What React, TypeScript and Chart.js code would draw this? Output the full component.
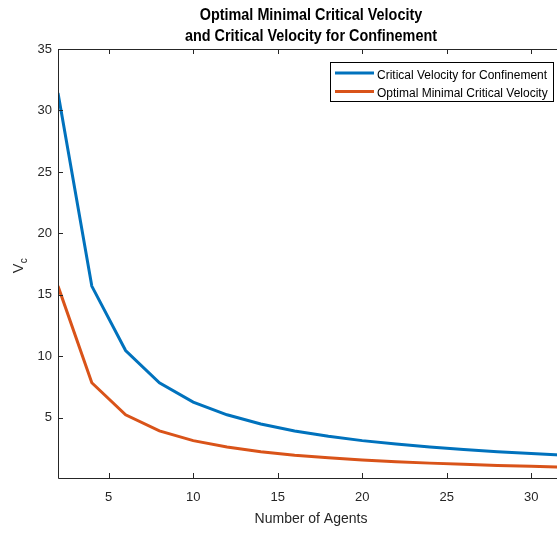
import React, { useEffect, useRef } from "react";
import { Chart, registerables } from "chart.js";

Chart.register(...registerables);

const agents = [2, 4, 6, 8, 10, 12, 14, 16, 18, 20, 22, 24, 26, 28, 30, 32];
const confinementVelocity = [31.42, 15.71, 10.47, 7.85, 6.28, 5.24, 4.49, 3.93, 3.49, 3.14, 2.86, 2.62, 2.42, 2.24, 2.09, 1.96];
const optimalVelocity = [15.71, 7.85, 5.24, 3.93, 3.14, 2.62, 2.24, 1.96, 1.75, 1.57, 1.43, 1.31, 1.21, 1.12, 1.05, 0.98];
const xTicks = [5, 10, 15, 20, 25, 30];
const yTicks = [5, 10, 15, 20, 25, 30, 35];
const seriesNames = ["Critical Velocity for Confinement", "Optimal Minimal Critical Velocity"];
const titleLines = ["Optimal Minimal Critical Velocity", "and Critical Velocity for Confinement"];
const xTitle = "Number of Agents";

const FONT = "'Liberation Sans', Arial, Helvetica, sans-serif";
const BLUE = "#0072BD";
const ORANGE = "#D95319";
const AXIS = "#262626";

function condensedText(ctx: CanvasRenderingContext2D, text: string, x: number, y: number, sx: number, align: "left" | "center") {
  ctx.save();
  ctx.translate(x, y);
  ctx.scale(sx, 1);
  ctx.textAlign = align;
  ctx.fillText(text, 0, 0);
  ctx.restore();
}

const decorPlugin = {
  id: "decor",
  afterDraw(chart: any) {
    const ctx = chart.ctx as CanvasRenderingContext2D;
    const { left, right, top, bottom } = chart.chartArea;
    const xs = chart.scales.x;
    const ys = chart.scales.y;
    ctx.save();
    // box
    ctx.strokeStyle = AXIS;
    ctx.lineWidth = 1;
    ctx.beginPath();
    ctx.moveTo(left + 0.5, top + 0.5);
    ctx.lineTo(right, top + 0.5);
    ctx.moveTo(left + 0.5, top);
    ctx.lineTo(left + 0.5, bottom + 0.5);
    ctx.lineTo(right, bottom + 0.5);
    ctx.stroke();
    // inward ticks
    const tl = 5;
    ctx.beginPath();
    for (const v of xTicks) {
      const px = Math.round(xs.getPixelForValue(v)) + 0.5;
      ctx.moveTo(px, bottom);
      ctx.lineTo(px, bottom - tl);
      ctx.moveTo(px, top);
      ctx.lineTo(px, top + tl);
    }
    for (const v of yTicks) {
      const py = Math.round(ys.getPixelForValue(v)) + 0.5;
      ctx.moveTo(left, py);
      ctx.lineTo(left + tl, py);
    }
    ctx.stroke();
    // title
    ctx.fillStyle = "#000";
    ctx.textBaseline = "alphabetic";
    ctx.font = `bold 16px ${FONT}`;
    const cx = 311;
    condensedText(ctx, titleLines[0], cx, 19.5, 0.9, "center");
    condensedText(ctx, titleLines[1], cx, 40.5, 0.9, "center");
    // x title
    ctx.fillStyle = AXIS;
    ctx.textAlign = "center";
    ctx.textBaseline = "middle";
    ctx.font = `14px ${FONT}`;
    ctx.fillText(xTitle, cx, 519);
    // y title V_c rotated
    ctx.translate(23, 265);
    ctx.rotate(-Math.PI / 2);
    ctx.textAlign = "left";
    ctx.textBaseline = "alphabetic";
    ctx.font = `14.5px ${FONT}`;
    const vw = ctx.measureText("V").width;
    const total = vw + 7;
    ctx.fillText("V", -total / 2, 0);
    ctx.font = `10px ${FONT}`;
    ctx.fillText("c", -total / 2 + vw + 0.5, 4);
    ctx.restore();

    // legend
    ctx.save();
    const lx = 330.5, ly = 62.5, lw = 223, lh = 39;
    ctx.fillStyle = "#fff";
    ctx.fillRect(lx, ly, lw, lh);
    ctx.strokeStyle = "#000";
    ctx.lineWidth = 1;
    ctx.strokeRect(lx, ly, lw, lh);
    const colors = [BLUE, ORANGE];
    ctx.font = `12.5px ${FONT}`;
    ctx.textBaseline = "alphabetic";
    seriesNames.forEach((name, i) => {
      const y = 73 + i * 18.5;
      ctx.strokeStyle = colors[i];
      ctx.lineWidth = 3;
      ctx.beginPath();
      ctx.moveTo(335, y);
      ctx.lineTo(374, y);
      ctx.stroke();
      ctx.fillStyle = "#000";
      condensedText(ctx, name, 377, 78.5 + i * 18.8, 0.96, "left");
    });
    ctx.restore();
  },
};

export default function App() {
  const ref = useRef<HTMLCanvasElement>(null);
  useEffect(() => {
    if (!ref.current) return;
    const chart = new Chart(ref.current, {
      type: "line",
      data: {
        datasets: [
          {
            label: seriesNames[0],
            data: agents.map((a, i) => ({ x: a, y: confinementVelocity[i] })),
            borderColor: BLUE,
            borderWidth: 3,
            pointRadius: 0,
            tension: 0,
          },
          {
            label: seriesNames[1],
            data: agents.map((a, i) => ({ x: a, y: optimalVelocity[i] })),
            borderColor: ORANGE,
            borderWidth: 3,
            pointRadius: 0,
            tension: 0,
          },
        ],
      },
      options: {
        responsive: false,
        animation: false,
        layout: { padding: { left: 0, top: 49, right: 5, bottom: 0 } },
        plugins: { legend: { display: false }, title: { display: false }, tooltip: { enabled: false } },
        scales: {
          x: {
            type: "linear",
            min: 2,
            max: 32,
            grid: { display: false, drawTicks: false },
            border: { display: false },
            afterBuildTicks: (s: any) => { s.ticks = xTicks.map((v) => ({ value: v })); },
            afterFit: (s: any) => { s.height = 55; },
            ticks: { color: AXIS, font: { family: FONT, size: 13 }, padding: 12, maxRotation: 0 },
          },
          y: {
            type: "linear",
            min: 0.1,
            max: 35,
            grid: { display: false, drawTicks: false },
            border: { display: false },
            afterBuildTicks: (s: any) => { s.ticks = yTicks.map((v) => ({ value: v })); },
            afterFit: (s: any) => { s.width = 58; },
            ticks: { color: AXIS, font: { family: FONT, size: 13 }, padding: 6 },
          },
        },
      },
      plugins: [decorPlugin],
    });
    return () => chart.destroy();
  }, []);
  return (
    <div style={{ position: "fixed", left: 0, top: 0, width: 557, height: 533, overflow: "hidden", background: "#fff" }}>
      <canvas ref={ref} width={570} height={533} style={{ display: "block" }} />
    </div>
  );
}
